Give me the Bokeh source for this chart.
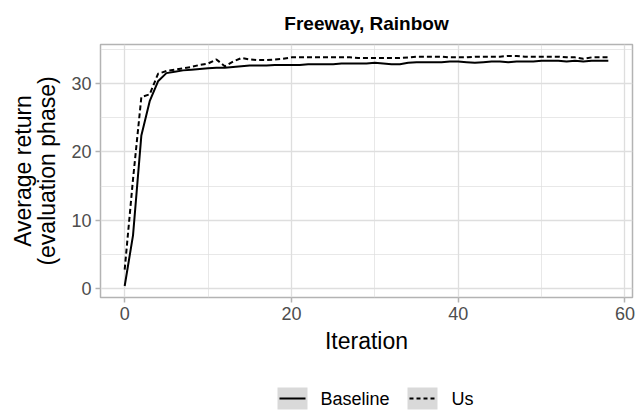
from bokeh.plotting import figure
from bokeh.models import Range1d, FixedTicker, ColumnDataSource
from bokeh.layouts import column
from bokeh.core.properties import value
from bokeh.embed import file_html
from bokeh.resources import INLINE

# ---- data -------------------------------------------------------------
iteration = list(range(59))

baseline = [
    0.4, 7.8, 22.4, 27.4, 30.3, 31.5, 31.7, 31.9, 32.0, 32.1,
    32.2, 32.3, 32.3, 32.4, 32.5, 32.6, 32.6, 32.6, 32.7, 32.7,
    32.7, 32.7, 32.8, 32.8, 32.8, 32.8, 32.9, 32.9, 32.9, 32.9,
    33.0, 32.9, 32.8, 32.8, 33.0, 33.1, 33.1, 33.1, 33.1, 33.2,
    33.2, 33.1, 33.0, 33.1, 33.2, 33.2, 33.1, 33.2, 33.2, 33.2,
    33.3, 33.3, 33.3, 33.2, 33.3, 33.2, 33.3, 33.3, 33.3,
]

us = [
    2.8, 16.0, 28.0, 28.4, 31.4, 31.8, 32.0, 32.2, 32.4, 32.7,
    32.9, 33.5, 32.5, 33.2, 33.7, 33.5, 33.4, 33.4, 33.5, 33.6,
    33.8, 33.8, 33.8, 33.8, 33.8, 33.8, 33.8, 33.8, 33.7, 33.7,
    33.7, 33.7, 33.7, 33.7, 33.8, 33.9, 33.9, 33.9, 33.9, 33.8,
    33.8, 33.8, 33.9, 33.9, 33.9, 33.9, 34.0, 34.0, 33.9, 33.9,
    33.9, 33.9, 33.9, 33.8, 33.8, 33.6, 33.8, 33.8, 33.8,
]

series_names = ["Baseline", "Us"]
x_ticks = [0, 20, 40, 60]
x_minor = [10, 30, 50]
y_ticks = [0, 10, 20, 30]
y_minor = [5, 15, 25, 35]

FONT = "Liberation Sans"
GRID = "#DEDEDE"
BORDER = "#B3B3B3"
TICK_TEXT = "#4D4D4D"

W, H_MAIN, H_LEG = 642, 372, 43
LEFT, RIGHT = 100, 10


def padded(lo, hi, frac=0.05):
    span = hi - lo
    return lo - frac * span, hi + frac * span


x_lo, x_hi = padded(min(iteration), max(iteration))
y_lo, y_hi = padded(min(baseline + us), max(baseline + us))

src = ColumnDataSource(dict(x=iteration, baseline=baseline, us=us))

# ---- main panel ---------------------------------------------------------
p = figure(
    width=W, height=H_MAIN,
    x_range=Range1d(x_lo, x_hi), y_range=Range1d(y_lo, y_hi),
    output_backend="svg", toolbar_location=None,
    min_border_left=LEFT, min_border_right=RIGHT,
    min_border_top=43, min_border_bottom=75,
    background_fill_color="white", border_fill_color="white",
)

p.title.text = "Freeway, Rainbow"
p.title.align = "center"
p.title.text_font = FONT
p.title.text_font_size = "19px"
p.title.text_font_style = "bold"
p.title.text_color = "black"
p.title.standoff = 21

p.outline_line_color = BORDER
p.outline_line_width = 1.5

p.xaxis.ticker = FixedTicker(ticks=x_ticks, minor_ticks=x_minor)
p.yaxis.ticker = FixedTicker(ticks=y_ticks, minor_ticks=y_minor)

for ax in (p.xaxis, p.yaxis):
    ax.axis_line_color = None
    ax.major_tick_line_color = BORDER
    ax.major_tick_line_width = 1.5
    ax.major_tick_out = 5
    ax.major_tick_in = 0
    ax.minor_tick_out = 0
    ax.minor_tick_in = 0
    ax.major_label_text_font = FONT
    ax.major_label_text_font_size = "18px"
    ax.major_label_text_color = TICK_TEXT
    ax.major_label_standoff = 4
    ax.axis_label_text_font = FONT
    ax.axis_label_text_font_size = "23px"
    ax.axis_label_text_font_style = "normal"
    ax.axis_label_text_color = "black"

p.xaxis.axis_label = "Iteration"
p.xaxis.axis_label_standoff = 5
p.yaxis.axis_label = "Average return\n(evaluation phase)"
p.yaxis.axis_label_standoff = 8
p.yaxis.axis_label_text_line_height = 0.95

for g in (p.xgrid, p.ygrid):
    g.grid_line_color = GRID
    g.grid_line_width = 1.3
    g.minor_grid_line_color = GRID
    g.minor_grid_line_width = 0.7

p.line("x", "baseline", source=src, line_color="black", line_width=2)
p.line("x", "us", source=src, line_color="black", line_width=2,
       line_dash="5 3")

# ---- legend strip -------------------------------------------------------
# the strip shares the panel's horizontal frame, so its x range is given
# in page pixels over that frame
leg = figure(
    width=W, height=H_LEG,
    x_range=Range1d(LEFT, W - RIGHT), y_range=Range1d(H_LEG, 0),
    output_backend="svg", toolbar_location=None,
    min_border_left=LEFT, min_border_right=RIGHT,
    min_border_top=0, min_border_bottom=0,
    outline_line_color=None,
    background_fill_color="white", border_fill_color="white",
)
leg.axis.visible = False
leg.grid.visible = False

key_left = [277, 407]
key_width = 30
key_top, key_bottom = 15, 37
key_mid = (key_top + key_bottom) / 2

leg.quad(left=key_left, right=[k + key_width for k in key_left],
         top=[key_top] * 2, bottom=[key_bottom] * 2,
         fill_color="#D9D9D9", line_color=None)
leg.segment(x0=[key_left[0] + 2], x1=[key_left[0] + key_width - 2],
            y0=[key_mid], y1=[key_mid], line_color="black", line_width=2)
leg.segment(x0=[key_left[1] + 2], x1=[key_left[1] + key_width - 2],
            y0=[key_mid], y1=[key_mid], line_color="black", line_width=2,
            line_dash="4 3")
leg.text(x=[320, 451], y=[key_mid, key_mid], text=series_names,
         text_font=value(FONT), text_font_size="18px",
         text_color="black", text_baseline="middle", text_align="left")

layout = column(p, leg, spacing=0)

open("out.html", "w").write(file_html(layout, INLINE))
